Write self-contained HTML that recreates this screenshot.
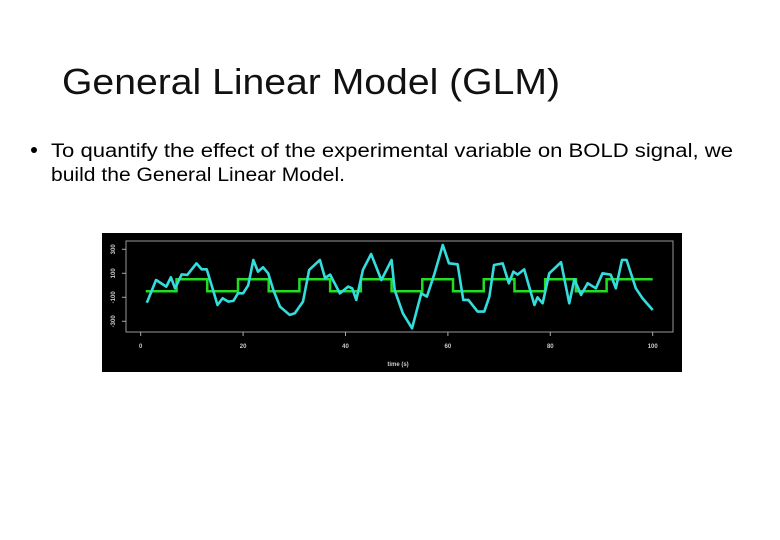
<!DOCTYPE html>
<html><head><meta charset="utf-8"><style>
html,body{margin:0;padding:0;background:#fff;width:780px;height:540px;overflow:hidden}
svg{display:block}
</style></head><body>
<svg id="page" width="780" height="540" xmlns="http://www.w3.org/2000/svg" font-family="Liberation Sans, sans-serif">
<text x="62" y="94" font-size="36" fill="#111" textLength="498" lengthAdjust="spacingAndGlyphs">General Linear Model (GLM)</text>
<circle cx="34" cy="150" r="3" fill="#000"/>
<text x="51" y="157" font-size="19" fill="#000" textLength="682" lengthAdjust="spacingAndGlyphs">To quantify the effect of the experimental variable on BOLD signal, we</text>
<text x="51" y="181" font-size="19" fill="#000" textLength="294" lengthAdjust="spacingAndGlyphs">build the General Linear Model.</text>
<g id="chart">
<rect x="102" y="233" width="580" height="139" fill="#000"/>
<rect x="126" y="241" width="547" height="91" fill="none" stroke="#999" stroke-width="1"/>
<text x="398" y="366" font-size="6" font-weight="bold" fill="#ccc" text-anchor="middle">time (s)</text>
</g>
</svg>
<script>
const cyanT=[1.2,3,5,5.9,6.7,8,9.1,10.9,11.9,12.9,14.2,15,16,17.1,18.1,19,20,21,22,22.9,23.9,24.9,25.9,27.2,29.1,30.1,31.7,32.9,35,36,37,38.9,40.5,41.3,42.1,43.4,45,47,49,49.6,51.2,53,54.8,55.9,57.4,59,60.2,61.9,63,64,65.8,67.1,68.1,69,70.7,71.9,72.8,73.6,74.9,76.9,77.5,78.5,79.8,82.1,83.7,84.7,86,87.3,88.9,90.2,91.8,92.8,94,94.9,96.7,98,100];
const cyanV=[-145,44,-11,67,-25,91,86,183,133,133,-50,-164,-108,-136,-130,-67,-67,0,211,114,150,100,-39,-178,-247,-233,-136,128,211,61,89,-67,-11,-25,-122,128,261,44,211,-39,-233,-358,-67,-94,100,336,183,175,-122,-122,-219,-219,-94,169,183,17,114,89,133,-164,-100,-150,100,192,-150,50,-80,17,-25,100,89,-25,211,211,-25,-108,-206];
const stepT=[1,7,13,19,25,31,37,43,49,55,61,67,73,79,85,91,100];
const stepV=[-50,50,-50,50,-50,50,-50,50,-50,50,-50,50,-50,50,-50,50,50];
const xTicks=[0,20,40,60,80,100];
const yTicks=[-300,-100,100,300];
const NS="http://www.w3.org/2000/svg";
const X=t=>140.7+t*5.12;
const Y=v=>285.3-v*0.12;
const g=document.getElementById('chart');
function mk(tag,attrs){const e=document.createElementNS(NS,tag);for(const k in attrs)e.setAttribute(k,attrs[k]);g.appendChild(e);return e;}
xTicks.forEach(t=>{
 const l=mk('line',{x1:X(t),x2:X(t),y1:332,y2:336,stroke:'#aaa','stroke-width':1});
 
 
 const tx=mk('text',{x:X(t),y:348,'font-size':6,'font-weight':'bold',fill:'#ccc','text-anchor':'middle'});
 tx.textContent=t;
 
 
});
yTicks.forEach(v=>{
 const l=mk('line',{x1:122,x2:126,y1:Y(v),y2:Y(v),stroke:'#aaa','stroke-width':1});
 
 
 const tx=mk('text',{x:115,y:Y(v),'font-size':6,'font-weight':'bold',fill:'#ccc','text-anchor':'middle',transform:`rotate(-90 115 ${Y(v)})`});
 tx.textContent=v;
 
 
});
let sp='';
for(let i=0;i<stepT.length-1;i++){sp+=(i?'L':'M')+X(stepT[i])+' '+Y(stepV[i])+'L'+X(stepT[i+1])+' '+Y(stepV[i]);}
const sg=mk('path',{d:sp,fill:'none',stroke:'#22dd22','stroke-width':2.5});


const cp=cyanT.map((t,i)=>(i?'L':'M')+X(t)+' '+Y(cyanV[i])).join('');
const cl=mk('path',{d:cp,fill:'none',stroke:'#33dddd','stroke-width':2.6,'stroke-linejoin':'round'});


</script>
</body></html>
